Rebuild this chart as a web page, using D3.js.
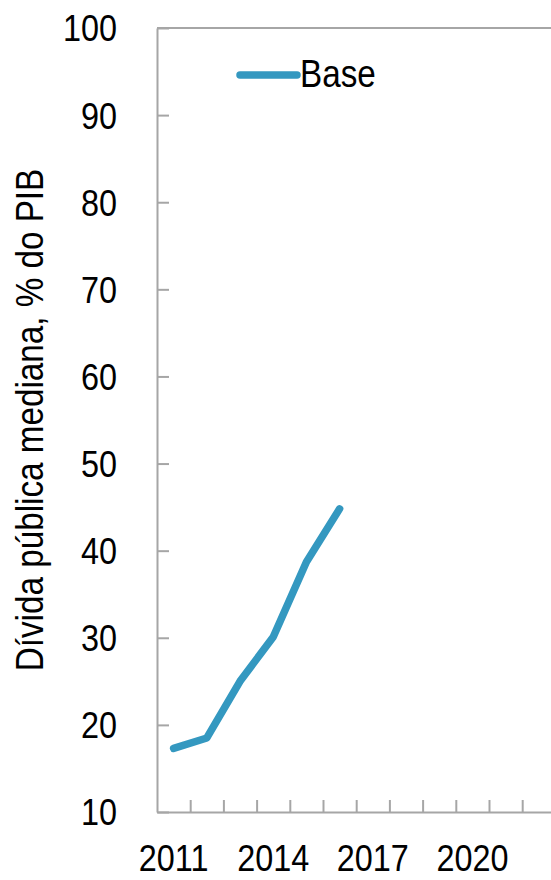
<!DOCTYPE html>
<html>
<head>
<meta charset="utf-8">
<script src="https://cdn.jsdelivr.net/npm/d3@7"></script>
<style>
  body { margin: 0; background: #fff; }
  text { font-family: "Liberation Sans", Arial, sans-serif; fill: #000; }
</style>
</head>
<body>
<div id="chart"></div>
<script>
// categories (years) and the series
var years = [2011, 2012, 2013, 2014, 2015, 2016, 2017, 2018, 2019, 2020, 2021, 2022];
var baseYears = [2011, 2012, 2013, 2014, 2015, 2016];
var baseValues = [17.3, 18.5, 25.0, 30.1, 38.7, 44.8];
var yTicks = [10, 20, 30, 40, 50, 60, 70, 80, 90, 100];
var xLabels = [2011, 2014, 2017, 2020];
var seriesName = "Base";
var yTitle = "Dívida pública mediana, % do PIB";

var W = 551, H = 880;
var margin = {top: 28, left: 157, bottom: 68};
var axisColor = "#a6a6a6", lineColor = "#3498c0";
var fs = 37, squeeze = 0.875;

var svg = d3.select("#chart").append("svg")
    .attr("width", W)
    .attr("height", H);

var x = d3.scaleBand()
    .domain(years)
    .range([margin.left, margin.left + 33.2 * years.length]);

// index scale for tick marks between categories
var xi = d3.scaleLinear()
    .domain([0, years.length])
    .range(x.range());

var y = d3.scaleLinear()
    .domain([10, 100])
    .range([H - margin.bottom, margin.top]);

//top border
svg.append("line")
    .attr("x1", margin.left).attr("x2", x.range()[1])
    .attr("y1", y(100)).attr("y2", y(100))
    .attr("stroke", axisColor)
    .attr("stroke-width", 2);

// y axis
var gy = svg.append("g")
    .attr("transform", "translate(" + margin.left + ",0)")
    .call(d3.axisLeft(y).tickValues(yTicks).tickSizeInner(-12).tickSizeOuter(0).tickPadding(40));
gy.select(".domain").attr("stroke", axisColor).attr("stroke-width", 2);
gy.selectAll(".tick line").attr("stroke", axisColor).attr("stroke-width", 2);
gy.selectAll(".tick text")
    .style("font-size", fs + "px")
    .attr("dy", "0.35em")
    .attr("transform", "translate(-40,0) scale(" + squeeze + ",1)")
    .attr("x", 0);

// x axis tick marks (between categories)
var gx = svg.append("g")
    .attr("transform", "translate(0," + y(10) + ")")
    .call(d3.axisBottom(xi).tickValues(d3.range(1, years.length)).tickSizeInner(-12).tickSizeOuter(0).tickFormat(""));
gx.select(".domain").attr("stroke", axisColor).attr("stroke-width", 2);
gx.selectAll(".tick line").attr("stroke", axisColor).attr("stroke-width", 2);

// x labels every 3 years
var gxl = svg.append("g")
    .attr("transform", "translate(0," + y(10) + ")")
    .call(d3.axisBottom(x).tickValues(xLabels).tickSize(0).tickPadding(33));
gxl.select(".domain").remove();
gxl.selectAll(".tick text")
    .style("font-size", fs + "px")
    .attr("transform", "scale(" + squeeze + ",1)");

// y axis title
svg.append("text")
    .attr("text-anchor", "middle")
    .style("font-size", "38px")
    .attr("transform", "translate(43," + ((y(10) + y(100)) / 2) + ") rotate(-90) scale(" + squeeze + ",1)")
    .text(yTitle);

// the line
var line = d3.line()
    .x(function(d, i) { return x(baseYears[i]) + x.bandwidth() / 2; })
    .y(function(d) { return y(d); });

svg.append("path")
    .datum(baseValues)
    .attr("fill", "none")
    .attr("stroke", lineColor)
    .attr("stroke-width", 7.5)
    .attr("stroke-linecap", "round")
    .attr("stroke-linejoin", "round")
    .attr("d", line);

// legend
var lg = svg.append("g").attr("transform", "translate(240,75)");
lg.append("line")
    .attr("x1", 0).attr("x2", 57)
    .attr("stroke", lineColor)
    .attr("stroke-width", 7.5)
    .attr("stroke-linecap", "round");
lg.append("text")
    .attr("x", 60 / squeeze)
    .attr("y", 12)
    .attr("transform", "scale(" + squeeze + ",1)")
    .style("font-size", "38px")
    .text(seriesName);
</script>
</body>
</html>
